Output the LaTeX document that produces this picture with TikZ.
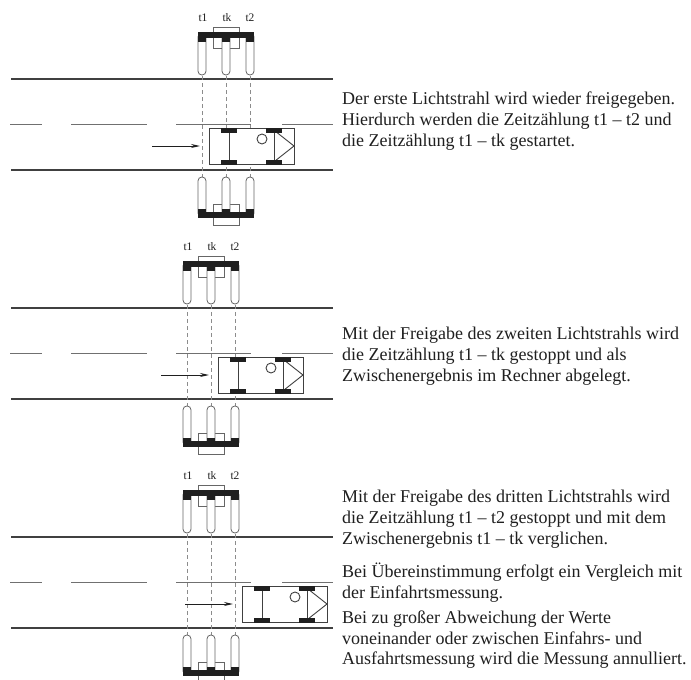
\documentclass[tikz,border=0pt]{standalone}
\usepackage{fontspec}
\setmainfont{Liberation Serif}
\usetikzlibrary{arrows.meta}

\definecolor{ink}{gray}{0.12}
\definecolor{rule}{gray}{0.25}
\definecolor{beam}{gray}{0.55}
\definecolor{tubeline}{gray}{0.4}

\tikzset{
  road/.style={draw=rule, line width=1.4pt},
  lane/.style={draw=beam!80!black, line width=0.8pt},
  beamline/.style={draw=beam, line width=0.7pt, dash pattern=on 4pt off 3pt},
  tube/.style={draw=tubeline, fill=white, line width=0.8pt, rounded corners=3.8pt},
  holder/.style={draw=tubeline, line width=0.8pt},
  bar/.style={fill=ink},
  body/.style={draw=rule, line width=0.9pt},
  wheel/.style={fill=ink},
  travel/.style={draw=ink, line width=1pt, -{Stealth[length=9pt,width=4pt]}},
  lbl/.style={font=\fontsize{11.5}{13}\selectfont, text=ink, inner sep=0pt, anchor=base},
  para/.style={font=\fontsize{18}{20.6}\selectfont, text=ink, inner sep=0pt, anchor=base west},
}

% One road scene: #1 = y of upper road edge, #2 = x of middle light barrier,
% #3 = x of the car's rear, #4 = name prefix
\newcommand{\lbpanel}[4]{%
  \begin{scope}[shift={(0,#1)}]
    % road edges and centre line
    \draw[road] (11,0) -- (333,0);
    \draw[road] (11,91) -- (333,91);
    \foreach \a/\b in {10/42,71/147,176/251,282/333}
      \draw[lane] (\a,45) -- (\b,45);
    % light beams
    \foreach \d in {-24,0,24}
      \draw[beamline] ({#2+\d},-3) -- ({#2+\d},98);
    % upper barrier unit
    \draw[holder] ({#2-13},-52) rectangle ({#2+13},-31);
    \foreach \d in {-24,0,24}{
      \draw[tube] ({#2+\d-4},-46) rectangle ({#2+\d+4},-4);
      \fill[bar] ({#2+\d-4},-41) rectangle ({#2+\d+4},-37.5);
    }
    \fill[bar] ({#2-28},-47.5) rectangle ({#2+28},-41);
    \node[lbl] (#4t1) at ({#2-23},-58) {t1};
    \node[lbl] (#4tk) at ({#2+1},-58) {tk};
    \node[lbl] (#4t2) at ({#2+24},-58) {t2};
    % lower barrier unit
    \draw[holder] ({#2-13},125) rectangle ({#2+13},146);
    \foreach \d in {-24,0,24}{
      \draw[tube] ({#2+\d-4},98) rectangle ({#2+\d+4},138);
      \fill[bar] ({#2+\d-4},129.5) rectangle ({#2+\d+4},133);
    }
    \fill[bar] ({#2-28},133) rectangle ({#2+28},139);
    % car
    \draw[body, fill=white] (#3,49) rectangle ({#3+85},85);
    \draw[body] ({#3+20},51) -- ({#3+20},83);
    \draw[body] ({#3+65},49) -- ({#3+65},85);
    \draw[body] ({#3+66},52) -- ({#3+85},67) -- ({#3+66},82);
    \draw[body] ({#3+53},60) circle (5);
    \foreach \w in {12,57}{
      \fill[wheel] ({#3+\w},48.5) rectangle ({#3+\w+16},53.5);
      \fill[wheel] ({#3+\w},80.5) rectangle ({#3+\w+16},85.5);
    }
    % direction of travel
    \coordinate (#4from) at ({#3-57},67);
    \coordinate (#4to) at ({#3-9},67);
    \draw[travel] (#4from) -- (#4to);
  \end{scope}}

\begin{document}
\begin{tikzpicture}[x=1pt,y=-1pt]
  \useasboundingbox (0,0) rectangle (691,680);
  \clip (0,0) rectangle (691,680);

  \lbpanel{79}{226}{209}{a}
  \lbpanel{308}{211}{218}{b}
  \lbpanel{537}{211}{242}{c}

  \node[para] (a1) at (342,104.5) {Der erste Lichtstrahl wird wieder freigegeben.};
  \node[para] (a2) at (342,125.5) {Hierdurch werden die Zeitzählung t1 – t2 und};
  \node[para] (a3) at (342,146)   {die Zeitzählung t1 – tk gestartet.};

  \node[para] (b1) at (342,339.5) {Mit der Freigabe des zweiten Lichtstrahls wird};
  \node[para] (b2) at (342,360.5) {die Zeitzählung t1 – tk gestoppt und als};
  \node[para] (b3) at (342,381)   {Zwischenergebnis im Rechner abgelegt.};

  \node[para] (c1) at (342,502.5) {Mit der Freigabe des dritten Lichtstrahls wird};
  \node[para] (c2) at (342,523.5) {die Zeitzählung t1 – t2 gestoppt und mit dem};
  \node[para] (c3) at (342,544)   {Zwischenergebnis t1 – tk verglichen.};

  \node[para] (d1) at (342,577.5) {Bei Übereinstimmung erfolgt ein Vergleich mit};
  \node[para] (d2) at (342,598)   {der Einfahrtsmessung.};

  \node[para] (e1) at (342,623.5) {Bei zu großer Abweichung der Werte};
  \node[para] (e2) at (342,644)   {voneinander oder zwischen Einfahrs- und};
  \node[para] (e3) at (342,664.5) {Ausfahrtsmessung wird die Messung annulliert.};
\end{tikzpicture}
\end{document}
